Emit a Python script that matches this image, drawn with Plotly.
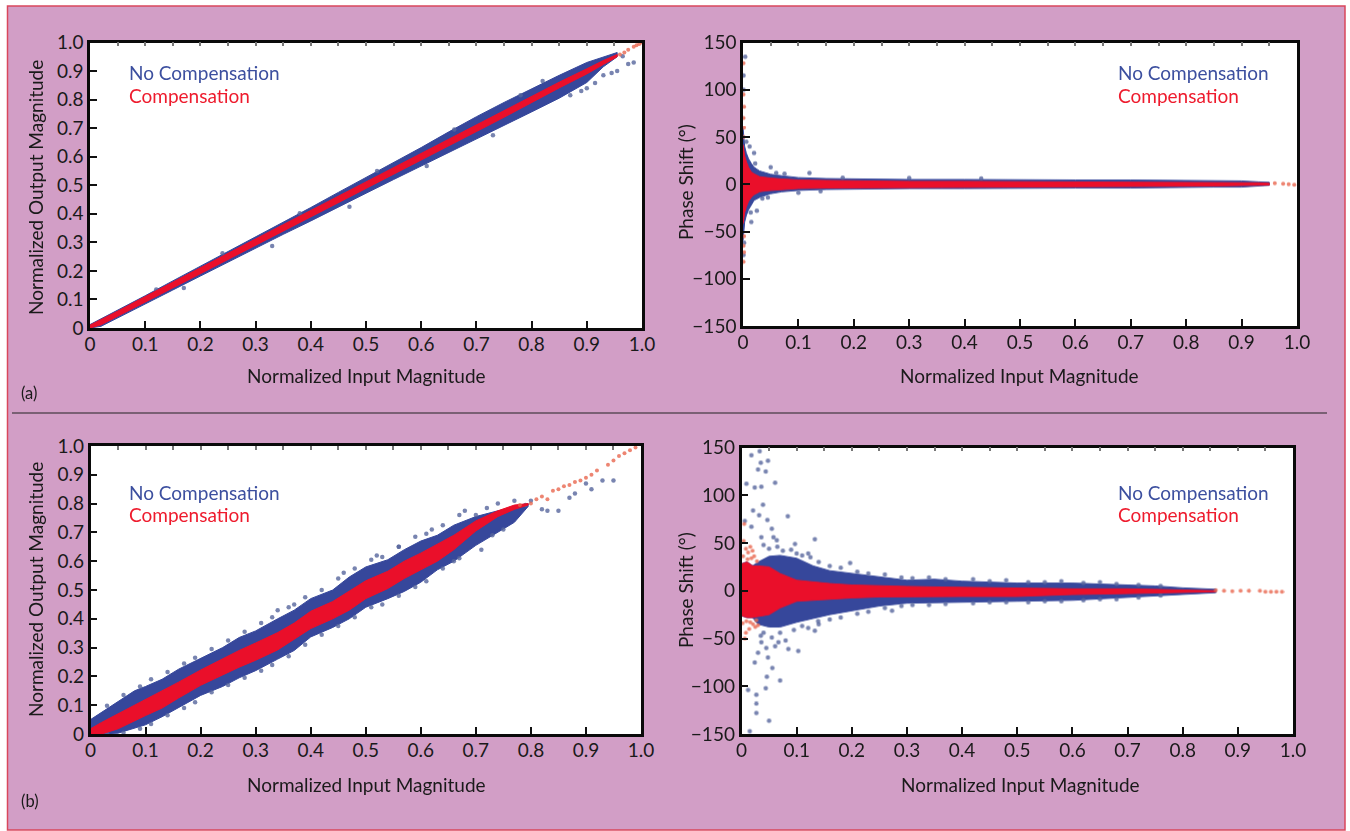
import plotly.graph_objects as go

# ---- panel (a) magnitude
a_mag_x = [0, .02, .05, .1, .15, .2, .25, .3, .35, .4, .45, .5, .55, .6, .65, .7, .75, .8, .85, .9, .93, .955]
a_mag_blue_hi = [.012, .032, .062, .113, .165, .216, .268, .318, .37, .422, .475, .527, .58, .632, .687, .74, .79, .838, .885, .93, .948, .965]
a_mag_blue_lo = [0, .006, .036, .085, .133, .182, .232, .28, .328, .375, .423, .472, .52, .568, .615, .662, .71, .757, .805, .86, .915, .95]
a_mag_red_hi = [.01, .029, .059, .11, .161, .211, .262, .312, .362, .412, .462, .512, .562, .612, .662, .712, .762, .812, .861, .908, .937, .958]
a_mag_red_lo = [0, .011, .041, .091, .141, .19, .24, .289, .339, .388, .438, .488, .538, .588, .638, .688, .738, .789, .841, .89, .923, .95]
a_mag_blue_dots = ([.87, .89, .9, .915, .93, .945, .955, .965, .975, .985, .12, .24, .38, .52, .66, .78, .82, .17, .33, .47, .61, .73],
                   [.815, .83, .84, .858, .885, .893, .9, .952, .925, .93, .135, .262, .402, .55, .695, .815, .865, .14, .287, .425, .567, .675])
a_mag_red_dots = ([.96, .968, .975, .985, .99, .995, 1.0], [.958, .965, .975, .985, .99, .995, 1.0])

# ---- panel (a) phase
a_ph_x = [0, .003, .006, .01, .015, .02, .03, .04, .05, .07, .1, .15, .2, .3, .4, .5, .6, .7, .8, .85, .9, .93, .95]
a_ph_blue_hi = [60, 40, 33, 27, 22, 18, 14, 12, 10.5, 9, 7, 6, 5.5, 5, 5, 4.5, 4.5, 4.5, 4, 4, 3.5, 2.5, 2]
a_ph_blue_lo = [-60, -40, -33, -27, -22, -17, -14, -12, -10, -8, -6.5, -5.5, -5, -4.5, -4.5, -4.5, -4, -4, -3.5, -3, -3, -2, -1]
a_ph_red_hi = [42, 30, 24, 18, 13, 11, 8, 7, 6.5, 5.5, 4.5, 4, 3.5, 3, 3, 2.8, 2.5, 2.3, 2.2, 2, 1.8, 1.5, 1]
a_ph_red_lo = [-42, -30, -24, -18, -14, -11, -8, -7, -6.5, -5.5, -4.5, -4, -3.5, -3, -2.8, -2.8, -2.5, -2.3, -2, -1.8, -1.5, -1, -.8]
a_ph_blue_dots = ([.004, .006, .012, .02, .022, .05, .014, .025, .015, .001, .002, .001, .001, .075, .12, .06, .035, .1, .14, .045, .18, .3, .43],
                  [135, 45, 40, 33, 22, 18, -30, -28, -40, -75, -62, 100, 115, 11, 12, 12, -15, -9, -7.5, -14, 7, 6.5, 6])
a_ph_red_dots = ([.001, .001, .002, .001, .002, .001, .002, .001, .002, .001, .96, .975, .985, .995],
                 [128, 95, 82, 70, 60, 50, -55, -65, -72, -82, 1, .5, 0, -.5])

# ---- panel (b) magnitude
b_mag_x = [0, .02, .05, .08, .1, .13, .16, .2, .24, .27, .3, .34, .37, .4, .44, .47, .5, .54, .57, .6, .63, .66, .7, .74, .77, .795]
b_mag_blue_hi = [.05, .075, .115, .15, .165, .19, .225, .263, .3, .335, .358, .4, .43, .47, .5, .545, .58, .605, .64, .67, .69, .725, .755, .775, .785, .8]
b_mag_blue_lo = [0, 0, .003, .02, .032, .06, .09, .134, .165, .195, .22, .26, .29, .337, .37, .4, .44, .47, .495, .527, .57, .6, .655, .7, .735, .79]
b_mag_red_hi = [.018, .04, .07, .1, .118, .15, .18, .222, .262, .29, .316, .352, .385, .426, .46, .495, .532, .565, .6, .628, .66, .69, .74, .775, .795, .8]
b_mag_red_lo = [0, 0, .018, .045, .064, .09, .125, .169, .205, .232, .256, .292, .328, .366, .4, .43, .47, .505, .54, .57, .6, .64, .705, .755, .78, .795]
b_mag_blue_dots = ([.34, .37, .46, .52, .56, .62, .68, .7, .72, .74, .77, .79, .8, .82, .83, .85, .87, .88, .9, .91, .93, .95, .71, .66, .73, .75,
                    .03, .06, .09, .11, .14, .17, .19, .22, .25, .28, .31, .33, .36, .39, .42, .45, .48, .51, .53, .56, .59, .61, .64, .67,
                    .03, .06, .09, .11, .14, .17, .19, .22, .25, .28, .31, .33, .36, .39, .42, .45, .48, .51, .53, .56, .59, .61, .64, .67],
                   [.43, .45, .56, .62, .65, .71, .775, .76, .785, .8, .81, .795, .81, .78, .775, .775, .82, .835, .87, .85, .88, .88, .64, .6, .69, .71,
                    .098, .135, .165, .19, .215, .245, .265, .295, .325, .355, .385, .405, .44, .475, .5, .54, .575, .605, .615, .65, .685, .695, .725, .76,
                    .0, .004, .018, .035, .065, .09, .11, .145, .17, .195, .22, .24, .27, .31, .345, .375, .405, .44, .45, .48, .51, .53, .575, .61])
b_mag_red_dots = ([.78, .8, .81, .82, .83, .84, .85, .86, .87, .88, .89, .9, .91, .92, .94, .95, .96, .97, .98, .99],
                  [.795, .8, .815, .825, .815, .845, .85, .86, .865, .875, .88, .89, .9, .915, .935, .95, .965, .975, .985, .995])

# ---- panel (b) phase
b_ph_x = [0, .01, .02, .03, .05, .07, .1, .13, .16, .2, .25, .3, .35, .4, .5, .6, .7, .75, .8, .83, .86]
b_ph_blue_hi = [28, 30, 26, 30, 36, 37, 34, 26, 21, 18, 14, 11, 12, 10, 8, 8, 6, 5, 3, 2.5, 1.5]
b_ph_blue_lo = [-26, -28, -28, -35, -38, -38, -33, -29, -25, -21, -16, -13, -13, -12, -11, -10, -7, -5, -4, -3, -2]
b_ph_red_hi = [28, 30, 26, 26, 25, 18, 11, 9, 7.5, 6, 5, 4.5, 4, 3.5, 3, 2, 2, 1.5, 1, .5, 0]
b_ph_red_lo = [-26, -28, -28, -27, -25, -18, -11, -10, -9, -7.5, -6.5, -6, -6, -6, -6, -4, -3, -2.5, -2, -1.5, -1]
b_ph_blue_dots = (
    [.033, .018, .048, .035, .03, .044, .061, .009, .024, .036, .039, .021, .032, .047, .084, .018, .055, .006, .133, .058, .036, .064, .097, .197, .121,
     .133, .103, .085, .067, .048, .036, .061, .024, .056, .046, .07, .044, .012, .027, .027, .027, .05, .015, .273, .121, .139,
     .04, .05, .065, .075, .09, .1, .11, .125, .035, .045, .055, .07, .08, .095, .11, .03, .04,
     .14, .16, .18, .21, .23, .26, .29, .31, .34, .37, .42, .45, .48, .52, .55, .58, .62, .65, .68, .72, .76,
     .14, .16, .18, .21, .23, .26, .29, .31, .34, .37, .42, .45, .48, .52, .55, .58, .62, .65, .68, .72, .76],
    [146, 142, 136, 134, 127, 125, 113, 112, 108, 109, 90, 84, 79, 74, 78, 67, 65, 73, 54, 56, 56, 53, 49, 29, 39,
     -42, -63, -61, -54, -70, -54, -58, -75, -81, -90, -94, -102, -104, -109, -118, -128, -136, -147, -21, -39, -32,
     48, 44, 46, 42, 43, 39, 37, 35, -47, -60, -49, -44, -52, -41, -37, -65, -44,
     30, 26, 24, 20, 18, 17, 14, 13, 14, 12, 12, 10, 11, 9, 9, 10, 8, 9, 7, 6, 5,
     -35, -30, -28, -24, -22, -18, -16, -15, -15, -14, -13, -12, -12, -12, -11, -11, -10, -9, -9, -7, -5])
b_ph_red_dots = ([.004, .008, .012, .016, .02, .008, .014, .025, .006, .005, .003, .011, .018, .023, .028, .002, .009, .016, .021, .027, .03,
                  .86, .875, .89, .905, .92, .94, .95, .96, .97, .98],
                 [52, 44, 40, 46, 42, -44, -40, -38, -50, 70, 36, 33, 34, 36, 31, -34, -32, -33, -35, -31, -36,
                  .5, 0, -.5, 0, 0, 0, -1, -1, -1, -1])

# ---- axis labels
x_ticks = [0, .1, .2, .3, .4, .5, .6, .7, .8, .9, 1.0]
x_tick_text = ["0", "0.1", "0.2", "0.3", "0.4", "0.5", "0.6", "0.7", "0.8", "0.9", "1.0"]
top_ticks = [.05, .1, .15, .2, .25, .3, .35, .4, .45, .5, .55, .6, .65, .7, .75, .8, .85, .9, .95]
mag_ticks = x_ticks
mag_tick_text = x_tick_text
ph_ticks = [-150, -100, -50, 0, 50, 100, 150]
ph_tick_text = ["\u2212150", "\u2212100", "\u221250", "0", "50", "100", "150"]
x_title = "Normalized Input Magnitude"
mag_title = "Normalized Output Magnitude"
ph_title = "Phase Shift (\u00b0)"
name_blue = "No Compensation"
name_red = "Compensation"

BLUE = "#36479b"
RED = "#ea0f2a"
BLUE_TXT = "#3c4f9f"
RED_TXT = "#ee1b2d"
BG = "#d29ec6"
FONT = "Lato"
TXT = "#1a1a1a"
W, H = 1350, 831

fig = go.Figure()

panels = [
    (1, (90, 642, 42.5, 328), [0, 1], mag_ticks, mag_tick_text, mag_title, a_mag_x,
     a_mag_blue_hi, a_mag_blue_lo, a_mag_red_hi, a_mag_red_lo, a_mag_blue_dots, a_mag_red_dots, (128, 73, 95),
     (366, 375), (35, 188)),
    (2, (743, 1297, 42.5, 326), [-150, 150], ph_ticks, ph_tick_text, ph_title, a_ph_x,
     a_ph_blue_hi, a_ph_blue_lo, a_ph_red_hi, a_ph_red_lo, a_ph_blue_dots, a_ph_red_dots, (1117, 73, 95),
     (1019, 375), (685, 182)),
    (3, (90.5, 641, 446, 734), [0, 1], mag_ticks, mag_tick_text, mag_title, b_mag_x,
     b_mag_blue_hi, b_mag_blue_lo, b_mag_red_hi, b_mag_red_lo, b_mag_blue_dots, b_mag_red_dots, (128, 492, 514),
     (366, 784), (35, 590)),
    (4, (741.5, 1293, 447.5, 734), [-150, 150], ph_ticks, ph_tick_text, ph_title, b_ph_x,
     b_ph_blue_hi, b_ph_blue_lo, b_ph_red_hi, b_ph_red_lo, b_ph_blue_dots, b_ph_red_dots, (1117, 492, 514),
     (1020, 784), (685, 590)),
]


def band(xs, hi, lo, color, name, xa, ya):
    return go.Scatter(x=list(xs) + list(xs)[::-1], y=list(hi) + list(lo)[::-1], mode="lines",
                      fill="toself", fillcolor=color, line=dict(color=color, width=1),
                      name=name, xaxis=xa, yaxis=ya, showlegend=False, hoverinfo="skip")


annotations = []
shapes = [
    dict(type="rect", xref="paper", yref="paper", x0=7.5 / W, x1=1345 / W, y0=1 - 830 / H, y1=1 - 6 / H,
         fillcolor=BG, line=dict(color="#d9475c", width=1.5), layer="below"),
    dict(type="line", xref="paper", yref="paper", x0=12 / W, x1=1327 / W, y0=1 - 413 / H, y1=1 - 413 / H,
         line=dict(color="#222", width=1.2)),
]
for n, (l, r, t, b), yr, yt, ytt, yttl, xs, bh, bl, rh, rl, bd, rd, (lx, ly1, ly2), (xtx, xty), (ytx, yty) in panels:
    xa, ya = f"x{n}", f"y{n}"
    top = f"x{n + 4}"
    fig.add_trace(band(xs, bh, bl, BLUE, name_blue, xa, ya))
    fig.add_trace(go.Scatter(x=bd[0], y=bd[1], mode="markers", name=name_blue, xaxis=xa, yaxis=ya,
                             marker=dict(size=4.5, color="#56659c", opacity=.8), showlegend=False))
    fig.add_trace(band(xs, rh, rl, RED, name_red, xa, ya))
    fig.add_trace(go.Scatter(x=rd[0], y=rd[1], mode="markers", name=name_red, xaxis=xa, yaxis=ya,
                             marker=dict(size=4, color="#e8674f", opacity=.8), showlegend=False))
    fig.add_trace(go.Scatter(x=[None], y=[None], xaxis=top, yaxis=ya, showlegend=False, hoverinfo="skip"))
    dom_x = [l / W, r / W]
    dom_y = [1 - b / H, 1 - t / H]
    shapes.append(dict(type="rect", xref="paper", yref="paper", x0=dom_x[0], x1=dom_x[1], y0=dom_y[0], y1=dom_y[1],
                       fillcolor="white", line=dict(width=0), layer="below"))
    fig.update_layout({
        f"xaxis{n}": dict(domain=dom_x, range=[0, 1], anchor=ya, tickmode="array", tickvals=x_ticks,
                          ticktext=x_tick_text, ticks="inside", ticklen=7, tickwidth=1.5, tickcolor="#111",
                          showline=True, linecolor="#0a0a0a", linewidth=2.5, showgrid=False, zeroline=False,
                          ticklabelstandoff=-3,
                          tickfont=dict(size=19, color=TXT, family=FONT)),
        f"yaxis{n}": dict(domain=dom_y, range=yr, anchor=xa, tickmode="array", tickvals=yt, ticktext=ytt,
                          ticks="inside", ticklen=7, tickwidth=1.5, tickcolor="#111", showline=True,
                          linecolor="#0a0a0a", linewidth=2.5, showgrid=False, zeroline=False, mirror=True,
                          tickfont=dict(size=19, color=TXT, family=FONT)),
        f"xaxis{n + 4}": dict(overlaying=xa, side="top", anchor=ya, range=[0, 1], tickmode="array",
                              tickvals=top_ticks, showticklabels=False, ticks="inside", ticklen=4, tickwidth=1.5,
                              tickcolor="#777", showline=True, linecolor="#0a0a0a", linewidth=2.5,
                              showgrid=False, zeroline=False),
    })
    annotations += [
        dict(x=lx / W, y=1 - ly1 / H, xref="paper", yref="paper", text=name_blue, showarrow=False, xanchor="left",
             yanchor="middle", xshift=-1, font=dict(size=19, color=BLUE_TXT, family=FONT)),
        dict(x=lx / W, y=1 - ly2 / H, xref="paper", yref="paper", text=name_red, showarrow=False, xanchor="left",
             yanchor="middle", xshift=-1, font=dict(size=19, color=RED_TXT, family=FONT)),
        dict(x=xtx / W, y=1 - xty / H, xref="paper", yref="paper", text=x_title, showarrow=False, xanchor="center",
             yanchor="middle", font=dict(size=19, color=TXT, family=FONT)),
        dict(x=ytx / W, y=1 - yty / H, xref="paper", yref="paper", text=yttl, showarrow=False, xanchor="center",
             yanchor="middle", textangle=-90, font=dict(size=19, color=TXT, family=FONT)),
    ]

annotations += [
    dict(x=19 / W, y=1 - 393 / H, xref="paper", yref="paper", text="(a)", showarrow=False, xanchor="left",
         yanchor="middle", font=dict(size=16.5, color=TXT, family=FONT)),
    dict(x=19 / W, y=1 - 801 / H, xref="paper", yref="paper", text="(b)", showarrow=False, xanchor="left",
         yanchor="middle", font=dict(size=16.5, color=TXT, family=FONT)),
]

fig.update_layout(
    width=W, height=H, margin=dict(l=0, r=0, t=0, b=0, autoexpand=False), paper_bgcolor="white", plot_bgcolor="white",
    annotations=annotations, shapes=shapes, showlegend=False, font=dict(family=FONT),
)
fig.write_html("out.html", config={"displayModeBar": False},
               post_script="document.body.style.margin='0';"
                           "document.querySelectorAll('.scatterlayer').forEach(function(e){e.style.filter='blur(0.7px)';});")
